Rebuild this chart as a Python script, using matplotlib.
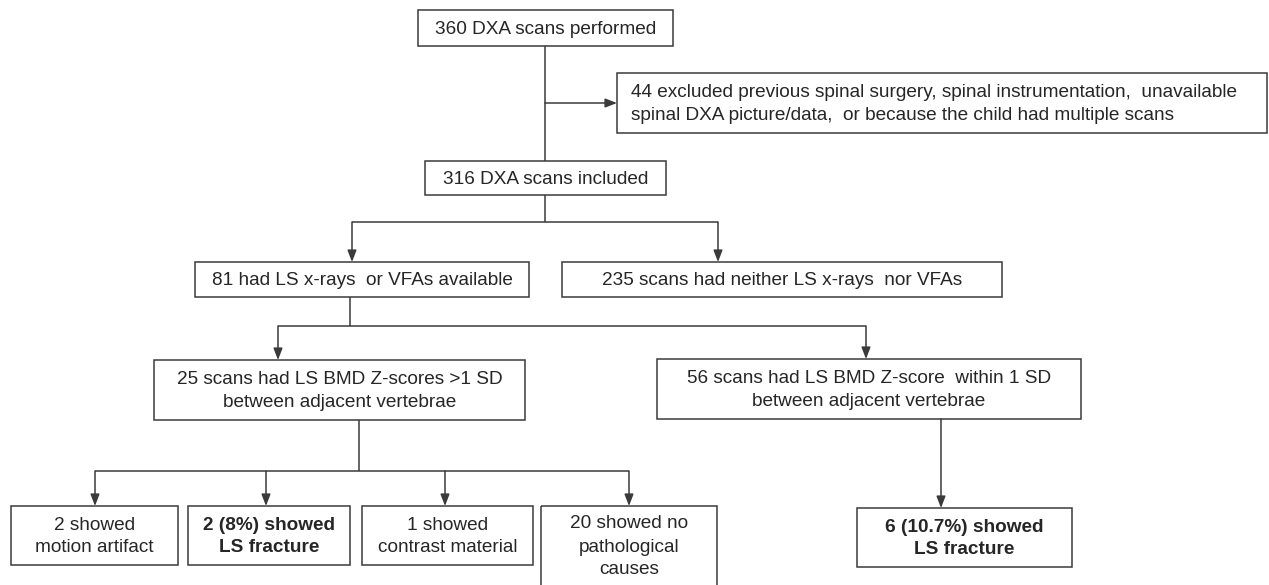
import matplotlib.pyplot as plt
from matplotlib.patches import Rectangle

W, H = 1269, 585
LINE = "#3a3a3a"
TXT = "#262626"
FONT = ["Liberation Sans", "DejaVu Sans"]

# box texts (one string per line)
top_lines = ["360 DXA scans performed"]
excl_lines = ["44 excluded previous spinal surgery, spinal instrumentation,  unavailable",
              "spinal DXA picture/data,  or because the child had multiple scans"]
incl_lines = ["316 DXA scans included"]
avail_lines = ["81 had LS x-rays  or VFAs available"]
neither_lines = ["235 scans had neither LS x-rays  nor VFAs"]
gt1_lines = ["25 scans had LS BMD Z-scores >1 SD", "between adjacent vertebrae"]
within_lines = ["56 scans had LS BMD Z-score  within 1 SD", "between adjacent vertebrae"]
motion_lines = ["2 showed", "motion artifact"]
frac8_lines = ["2 (8%) showed", "LS fracture"]
contrast_lines = ["1 showed", "contrast material"]
nopath_lines = ["20 showed no", "pathological", "causes"]
frac107_lines = ["6 (10.7%) showed", "LS fracture"]

fig = plt.figure(figsize=(W / 100, H / 100), dpi=100)
ax = fig.add_axes([0, 0, 1, 1])
ax.set_xlim(0, W)
ax.set_ylim(H, 0)
ax.axis("off")


def box(x0, y0, x1, y1, lines, bold=False, left=None, fs=13.7):
    ax.add_patch(Rectangle((x0, y0), x1 - x0, y1 - y0, fill=False,
                           edgecolor=LINE, lw=1.1))
    n = len(lines)
    step = 23
    yc = (y0 + y1) / 2 + 1
    if n == 3:
        yc = y0 + 41
    for i, s in enumerate(lines):
        y = yc + (i - (n - 1) / 2) * step
        xt = left if left is not None else (x0 + x1) / 2
        ax.text(xt, y, s, ha="left" if left is not None else "center",
                va="center", fontsize=fs, family=FONT, color=TXT,
                fontweight="bold" if bold else "normal")


def line(xs, ys):
    ax.plot(xs, ys, color=LINE, lw=1.1, solid_capstyle="butt")


def arrow(x0, y0, x1, y1):
    ax.annotate("", xy=(x1, y1), xytext=(x0, y0),
                arrowprops=dict(arrowstyle="-|>,head_length=0.7,head_width=0.27",
                                color=LINE, lw=1.1, shrinkA=0, shrinkB=0))


box(418, 10, 673, 46, top_lines)
box(617, 73, 1267, 133, excl_lines, left=631)
box(425, 161, 666, 195, incl_lines)
box(195, 262, 529, 297, avail_lines)
box(562, 262, 1002, 297, neither_lines)
box(154, 360, 525, 420, gt1_lines)
box(657, 359, 1081, 419, within_lines)
box(11, 506, 178, 565, motion_lines)
box(188, 506, 350, 565, frac8_lines, bold=True)
box(362, 506, 533, 565, contrast_lines)
box(541, 506, 717, 600, nopath_lines)
box(857, 508, 1072, 567, frac107_lines, bold=True)

# top trunk
line([545, 545], [46, 161])
arrow(545, 103, 617, 103)
# split to 81 / 235
line([545, 545], [195, 222])
line([352, 718], [222, 222])
arrow(352, 222, 352, 262)
arrow(718, 222, 718, 262)
# split to 25 / 56
line([350, 350], [297, 326])
line([278, 866], [326, 326])
arrow(278, 326, 278, 360)
arrow(866, 326, 866, 359)
# split of 25
line([359, 359], [420, 471])
line([95, 629], [471, 471])
for xa in [95, 266, 445, 629]:
    arrow(xa, 471, xa, 506)
# 56 to fracture
arrow(941, 419, 941, 508)

fig.savefig("out.png", dpi=100)
